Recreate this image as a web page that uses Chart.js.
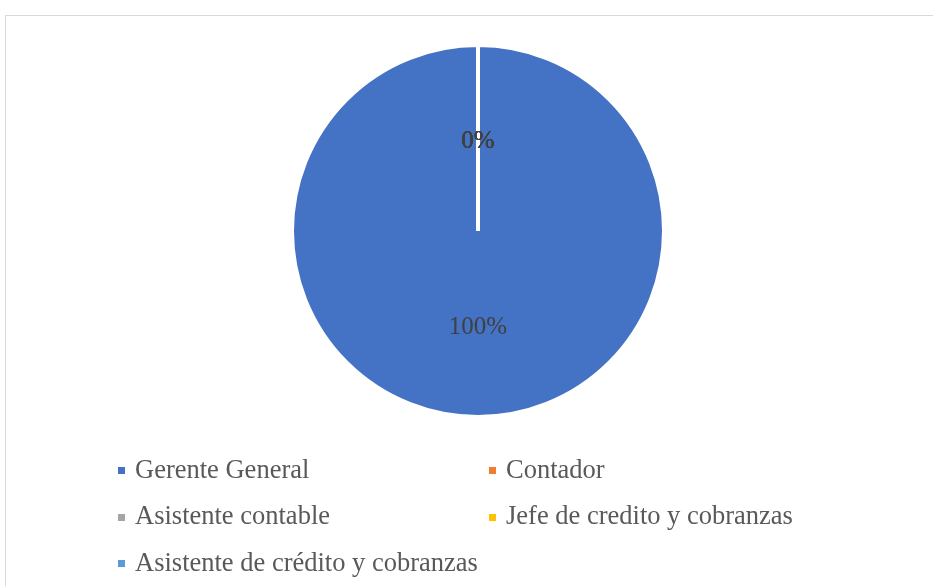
<!DOCTYPE html>
<html>
<head>
<meta charset="utf-8">
<script src="https://cdn.jsdelivr.net/npm/chart.js@4.4.0/dist/chart.umd.min.js"></script>
<style>
  html, body { margin: 0; padding: 0; background: #fff; }
  body { width: 933px; height: 586px; position: relative; overflow: hidden; }
  #marco { position: absolute; left: 5px; top: 15px; width: 940px; height: 600px; border: 1px solid #d9d9d9; box-sizing: border-box; }
  #grafico { position: absolute; left: 0; top: 0; }
  #leyenda { position: absolute; left: 118px; top: 446px; display: grid; grid-template-columns: 371px auto; grid-auto-rows: 46.5px;
             font-family: "Liberation Serif", "Times New Roman", serif; font-size: 26.5px; color: #595959; }
  #leyenda div { display: flex; align-items: center; white-space: nowrap; }
  #leyenda span.caja { width: 7px; height: 7px; margin-right: 10px; margin-top: 3px; flex: none; }
</style>
</head>
<body>
<div id="marco"></div>
<canvas id="grafico" width="933" height="586"></canvas>
<div id="leyenda"></div>
<script>
// Datos del gráfico
const cargos = ['Gerente General', 'Contador', 'Asistente contable', 'Jefe de credito y cobranzas', 'Asistente de crédito y cobranzas'];
const porcentajes = [100, 0, 0, 0, 0];
const colores = ['#4472C4', '#ED7D31', '#A5A5A5', '#FFC000', '#5B9BD5'];

// Plugin para escribir el porcentaje dentro de cada porción
const etiquetas = {
    id: 'etiquetas',
    afterDatasetsDraw(chart) {
        const ctx = chart.ctx;
        const meta = chart.getDatasetMeta(0);
        const total = porcentajes.reduce((a, b) => a + b, 0);
        ctx.save();
        ctx.font = '25px "Liberation Serif", "Times New Roman", serif';
        ctx.fillStyle = '#404040';
        ctx.textAlign = 'center';
        ctx.textBaseline = 'middle';
        meta.data.forEach((arco, i) => {
            const p = arco.getCenterPoint();
            const valor = Math.round(porcentajes[i] / total * 100);
            ctx.fillText(valor + '%', p.x, p.y + 3);
        });
        ctx.restore();
    }
};

const grafico = new Chart(document.getElementById('grafico').getContext('2d'), {
    type: 'pie',
    data: {
        labels: cargos,
        datasets: [{
            data: porcentajes,
            backgroundColor: colores,
            borderColor: '#ffffff',
            borderWidth: 4
        }]
    },
    options: {
        responsive: false,
        animation: false,
        events: [],
        layout: { padding: { left: 23, right: 0, top: 43, bottom: 167 } },
        plugins: {
            legend: { display: false },
            tooltip: { enabled: false }
        }
    },
    plugins: [etiquetas]
});

// Leyenda en dos columnas
const leyenda = document.getElementById('leyenda');
cargos.forEach((nombre, i) => {
    const item = document.createElement('div');
    const caja = document.createElement('span');
    caja.className = 'caja';
    caja.style.background = colores[i];
    item.appendChild(caja);
    item.appendChild(document.createTextNode(nombre));
    leyenda.appendChild(item);
});
</script>
</body>
</html>
